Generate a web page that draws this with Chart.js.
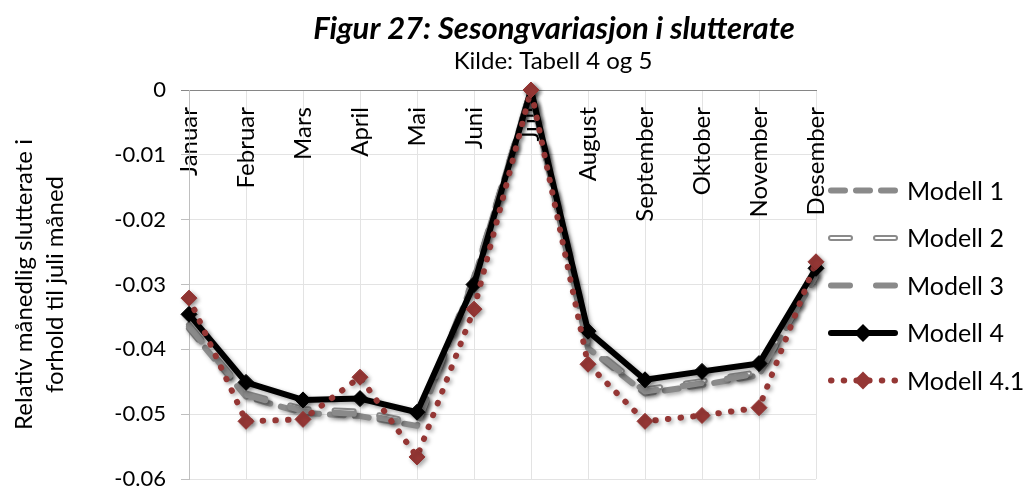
<!DOCTYPE html>
<html>
<head>
<meta charset="utf-8">
<script src="https://cdn.jsdelivr.net/npm/chart.js@4.4.1/dist/chart.umd.min.js"></script>
<style>
  html, body { margin: 0; padding: 0; background: #ffffff; }
  #wrap { width: 1024px; height: 488px; }
</style>
</head>
<body>
<div id="wrap"><canvas id="chart" width="1024" height="488"></canvas></div>
<script>
// Months along the horizontal axis
const months = ['Januar', 'Februar', 'Mars', 'April', 'Mai', 'Juni', 'Juli',
                'August', 'September', 'Oktober', 'November', 'Desember'];

// Vertical axis ticks and their printed labels
const yTickValues = [-0.06, -0.05, -0.04, -0.03, -0.02, -0.01, 0];
const yTickLabels = ['-0.06', '-0.05', '-0.04', '-0.03', '-0.02', '-0.01', '0'];

const seriesNames = ['Modell 1', 'Modell 2', 'Modell 3', 'Modell 4', 'Modell 4.1'];

// Monthly exit rate relative to July, per model
const modell1  = [-0.0368, -0.0473, -0.0498, -0.0503, -0.0518, -0.0292, 0, -0.0398, -0.0468, -0.0455, -0.0440, -0.0287];
const modell2  = [-0.0362, -0.0468, -0.0492, -0.0496, -0.0513, -0.0289, 0, -0.0392, -0.0462, -0.0449, -0.0435, -0.0284];
const modell3  = [-0.0365, -0.0470, -0.0495, -0.0500, -0.0516, -0.0290, 0, -0.0395, -0.0465, -0.0452, -0.0437, -0.0286];
const modell4  = [-0.0346, -0.0451, -0.0478, -0.0476, -0.0497, -0.0300, 0, -0.0372, -0.0447, -0.0434, -0.0422, -0.0275];
const modell41 = [-0.0321, -0.0511, -0.0508, -0.0443, -0.0566, -0.0338, 0, -0.0423, -0.0511, -0.0502, -0.0490, -0.0265];

const chartTitle = 'Figur 27: Sesongvariasjon i slutterate';
const chartSubtitle = 'Kilde: Tabell 4 og 5';
const yAxisTitle = ['Relativ månedlig slutterate i', 'forhold til juli måned'];

const FONT = 'Lato';

// Soft drop shadow under each series, plus the white core of the double line
const shadowPlugin = {
  id: 'seriesShadow',
  beforeDatasetDraw(chart) {
    const ctx = chart.ctx;
    ctx.save();
    ctx.shadowColor = 'rgba(0,0,0,0.35)';
    ctx.shadowBlur = 4;
    ctx.shadowOffsetX = 2;
    ctx.shadowOffsetY = 2;
  },
  afterDatasetDraw(chart, args) {
    const ctx = chart.ctx;
    ctx.restore();
    const ds = chart.data.datasets[args.index];
    if (ds.innerColor) {
      const pts = args.meta.data;
      ctx.save();
      ctx.strokeStyle = ds.innerColor;
      ctx.lineWidth = ds.innerWidth;
      ctx.lineCap = 'round';
      ctx.lineJoin = 'round';
      ctx.setLineDash(ds.borderDash || []);
      ctx.beginPath();
      pts.forEach((p, i) => (i ? ctx.lineTo(p.x, p.y) : ctx.moveTo(p.x, p.y)));
      ctx.stroke();
      ctx.restore();
    }
  }
};

function diamond(ctx, x, y, r, color) {
  ctx.save();
  ctx.setLineDash([]);
  ctx.fillStyle = color;
  ctx.beginPath();
  ctx.moveTo(x, y - r);
  ctx.lineTo(x + r, y);
  ctx.lineTo(x, y + r);
  ctx.lineTo(x - r, y);
  ctx.closePath();
  ctx.fill();
  ctx.restore();
}

// Legend at the right: line sample with marker, then the series name
const sideLegend = {
  id: 'sideLegend',
  afterDraw(chart) {
    const { ctx, chartArea } = chart;
    const dss = chart.data.datasets;
    const x0 = chartArea.right + 15, x1 = x0 + 64, tx = chartArea.right + 91;
    const cy = (chartArea.top + chartArea.bottom) / 2 + 1;
    const gap = 47.5;
    dss.forEach((ds, i) => {
      const y = cy + (i - (dss.length - 1) / 2) * gap;
      ctx.save();
      ctx.strokeStyle = ds.borderColor;
      ctx.lineWidth = ds.borderWidth;
      ctx.lineCap = 'round';
      ctx.setLineDash(ds.borderDash || []);
      ctx.beginPath();
      ctx.moveTo(x0, y);
      ctx.lineTo(x1, y);
      ctx.stroke();
      if (ds.innerColor) {
        ctx.strokeStyle = ds.innerColor;
        ctx.lineWidth = ds.innerWidth;
        ctx.beginPath();
        ctx.moveTo(x0, y);
        ctx.lineTo(x1, y);
        ctx.stroke();
      }
      if (ds.pointRadius > 0) {
        diamond(ctx, (x0 + x1) / 2, y, ds.pointRadius + 1, ds.pointBackgroundColor);
      }
      ctx.setLineDash([]);
      ctx.fillStyle = '#000000';
      ctx.font = `25px ${FONT}`;
      ctx.textAlign = 'left';
      ctx.textBaseline = 'middle';
      ctx.fillText(ds.label, tx, y + 1);
      ctx.restore();
    });
  }
};

// Heading and source line
const heading = {
  id: 'heading',
  afterDraw(chart) {
    const ctx = chart.ctx;
    ctx.save();
    ctx.fillStyle = '#000000';
    ctx.textAlign = 'center';
    ctx.textBaseline = 'middle';
    ctx.font = `italic bold 31px ${FONT}`;
    ctx.fillText(chartTitle, 554, 29);
    ctx.font = `24px ${FONT}`;
    ctx.fillText(chartSubtitle, 553, 61);
    ctx.restore();
  }
};

const common = { fill: false, tension: 0, clip: false, borderJoinStyle: 'round', borderCapStyle: 'round' };

new Chart(document.getElementById('chart'), {
  type: 'line',
  data: {
    labels: months,
    datasets: [
      Object.assign({}, common, { label: seriesNames[0], data: modell1, borderColor: '#8a8a8a', borderWidth: 6,
        borderDash: [14, 11], pointRadius: 0, order: 4 }),
      Object.assign({}, common, { label: seriesNames[1], data: modell2, borderColor: '#8a8a8a', borderWidth: 6,
        borderDash: [19, 26], pointRadius: 0, innerColor: '#ffffff', innerWidth: 2, order: 3 }),
      Object.assign({}, common, { label: seriesNames[2], data: modell3, borderColor: '#8a8a8a', borderWidth: 6,
        borderDash: [19, 26], pointRadius: 0, order: 2 }),
      Object.assign({}, common, { label: seriesNames[3], data: modell4, borderColor: '#000000', borderWidth: 6,
        pointStyle: 'rectRot', pointRadius: 8, pointBackgroundColor: '#000000', pointBorderColor: '#000000',
        pointBorderWidth: 1, order: 1 }),
      Object.assign({}, common, { label: seriesNames[4], data: modell41, borderColor: '#953735', borderWidth: 6,
        borderDash: [0.5, 12.2], pointStyle: 'rectRot', pointRadius: 8, pointBackgroundColor: '#953735',
        pointBorderColor: '#953735', pointBorderWidth: 1, order: 0 })
    ]
  },
  options: {
    responsive: false,
    animation: false,
    events: [],
    layout: { padding: { top: 90, right: 208, bottom: 8, left: 0 } },
    plugins: { legend: { display: false }, title: { display: false }, tooltip: { enabled: false } },
    scales: {
      x: {
        type: 'category',
        position: { y: 0 },
        offset: false,
        grid: { color: '#e3e3e3', lineWidth: 1, drawTicks: false },
        border: { display: true, color: '#868686', width: 1 },
        ticks: {
          autoSkip: false, minRotation: 90, maxRotation: 90, padding: 17,
          color: '#000000', font: { family: FONT, size: 24 }
        },
        afterFit(scale) { scale.height = 0; scale.paddingLeft = 0; scale.paddingRight = 0; }
      },
      y: {
        type: 'linear',
        min: -0.06,
        max: 0,
        afterBuildTicks(scale) { scale.ticks = yTickValues.map(v => ({ value: v })); },
        grid: {
          color: '#e3e3e3', lineWidth: 1, tickLength: 8,
          tickColor: (c) => (c.tick && c.tick.value === 0 ? '#868686' : '#bfbfbf')
        },
        border: { display: true, color: '#bfbfbf', width: 1 },
        ticks: {
          padding: 15, color: '#000000', font: { family: FONT, size: 22 },
          callback: (v, i) => yTickLabels[i]
        },
        title: {
          display: true, text: yAxisTitle, color: '#000000',
          font: { family: FONT, size: 24, lineHeight: 1.32 },
          padding: { top: 8, bottom: 0 }
        },
        afterFit(scale) { scale.width = 189; scale.paddingTop = 0; scale.paddingBottom = 0; }
      }
    }
  },
  plugins: [shadowPlugin, sideLegend, heading]
});
</script>
</body>
</html>
